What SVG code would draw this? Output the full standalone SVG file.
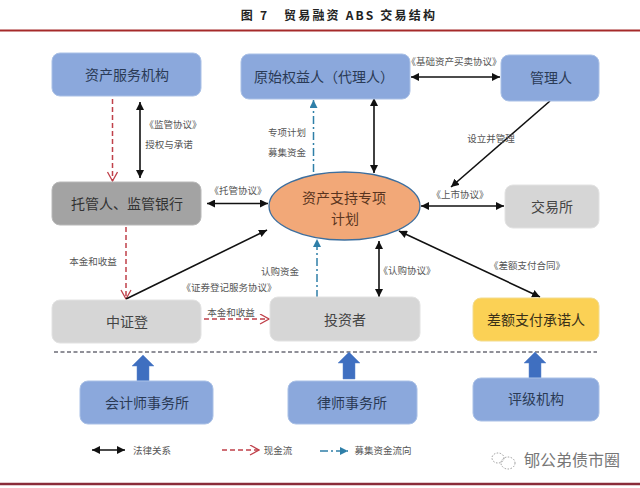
<svg xmlns="http://www.w3.org/2000/svg" width="640" height="488" viewBox="0 0 640 488">
<style>
text{font-family:"Noto Sans CJK SC","Liberation Sans",sans-serif;text-anchor:middle}
.n{font-size:14px;fill:#2a3a55}
.g{font-size:14px;fill:#444}
.l{font-size:9.500px;fill:#555}
.blue{fill:#8ba8dc;stroke:#a9c0e6;stroke-width:1}
.grey{fill:#d6d6d6;stroke:#e2e2e2;stroke-width:1}
.k{stroke:#111;stroke-width:1.600;fill:none;marker-start:url(#ks);marker-end:url(#ke)}
.k1{stroke:#111;stroke-width:1.600;fill:none;marker-end:url(#ke)}
.r{stroke:#c0404a;stroke-width:1.500;fill:none;stroke-dasharray:5 3;marker-end:url(#re)}
.t{stroke:#2f7fa8;stroke-width:1.500;fill:none;stroke-dasharray:8 3 2 3;marker-end:url(#te)}
.up{fill:#3f6fc0;stroke:#5a85cc;stroke-width:.5}
</style>
<defs>
<marker id="ke" markerUnits="userSpaceOnUse" markerWidth="9" markerHeight="9" refX="8" refY="4" orient="auto"><path d="M0 0L8 4L0 8Z" fill="#111"/></marker>
<marker id="ks" markerUnits="userSpaceOnUse" markerWidth="9" markerHeight="9" refX="0" refY="4" orient="auto"><path d="M8 0L0 4L8 8Z" fill="#111"/></marker>
<marker id="re" markerUnits="userSpaceOnUse" markerWidth="11" markerHeight="12" refX="10" refY="5.500" orient="auto"><path d="M1 .5L10 5.500L1 10.500" fill="none" stroke="#c0404a" stroke-width="1.300"/></marker>
<marker id="te" markerUnits="userSpaceOnUse" markerWidth="9" markerHeight="9" refX="8" refY="4" orient="auto"><path d="M0 0L8 4L0 8Z" fill="#2f7fa8"/></marker>
</defs>
<rect width="640" height="488" fill="#fff"/>
<text x="339" y="20" style="font-size:12px;font-weight:700;fill:#222;letter-spacing:2.200px;font-family:'Noto Sans CJK SC',serif" xml:space="preserve">图 7   贸易融资 ABS 交易结构</text>
<path d="M0 30.500H640" stroke="#a52a2a" stroke-width="2"/>
<path d="M0 484H640" stroke="#8a2c3a" stroke-width="2.500"/>
<g id="connectors">
<path class="r" d="M112.500 99V181"/>
<path class="k" d="M140 102V178"/>
<path class="k" d="M207 203.500H268"/>
<path class="t" d="M313.500 172V100"/>
<path class="k" d="M374 98V173"/>
<path class="k" d="M411 77H500"/>
<path class="k1" d="M550 101L451 187"/>
<path class="k" d="M421 206H504"/>
<path class="r" d="M126 227V299"/>
<path class="k1" d="M126 299L267 230"/>
<path class="r" d="M204 319H269"/>
<path class="t" d="M317 298V239"/>
<path class="k" d="M379 241V297"/>
<path class="k" d="M399 231L540 297"/>
<path d="M54 352H597" stroke="#223" stroke-width="1.200" stroke-dasharray="4 2.500" fill="none"/>
<path class="up" d="M137 381V366H132L143 355L154 366H149V381Z"/>
<path class="up" d="M343 379V363H338L349 352L360 363H355V379Z"/>
<path class="up" d="M529 378V363H524L535 352L546 363H541V378Z"/>
<path class="k" d="M92 450H125"/>
<path class="r" d="M222 450H259"/>
<path class="t" d="M320 451H348"/>
</g>
<g id="n1"><rect class="blue" x="52" y="53" width="149" height="43" rx="8"/><text class="n" x="127" y="80">资产服务机构</text></g>
<g id="n2"><rect class="blue" x="241" y="54" width="169" height="45" rx="8"/><text class="n" x="324" y="82">原始权益人（代理人）</text></g>
<g id="n3"><rect class="blue" x="501" y="55" width="98" height="46" rx="8"/><text class="n" x="551" y="83">管理人</text></g>
<g id="n4"><rect x="52" y="182" width="149" height="43" rx="8" fill="#a3a3a3" stroke="#b8b8b8"/><text class="g" x="127" y="209" style="fill:#333">托管人、监管银行</text></g>
<g id="n5"><ellipse cx="344.500" cy="206" rx="75.500" ry="34" fill="#f2a878" stroke="#3e6f9e" stroke-width="1.300"/><text class="n" x="344" y="203" style="fill:#5a3520">资产支持专项</text><text class="n" x="345" y="224" style="fill:#5a3520">计划</text></g>
<g id="n6"><rect class="grey" x="505" y="185" width="94" height="43" rx="8"/><text class="g" x="552" y="212">交易所</text></g>
<g id="n7"><rect class="grey" x="52" y="300" width="149" height="43" rx="8"/><text class="g" x="127" y="327">中证登</text></g>
<g id="n8"><rect class="grey" x="270" y="297" width="150" height="44" rx="8"/><text class="g" x="345" y="325">投资者</text></g>
<g id="n9"><rect x="473" y="298" width="126" height="43" rx="8" fill="#fbd155" stroke="#f2dc90"/><text class="g" x="536" y="325" style="fill:#3a3018">差额支付承诺人</text></g>
<g id="n10"><rect class="blue" x="80" y="381" width="133" height="43" rx="8"/><text class="n" x="147" y="408">会计师事务所</text></g>
<g id="n11"><rect class="blue" x="288" y="381" width="129" height="43" rx="8"/><text class="n" x="352" y="408">律师事务所</text></g>
<g id="n12"><rect class="blue" x="473" y="378" width="126" height="43" rx="8"/><text class="n" x="536" y="404">评级机构</text></g>
<g id="labels">
<text class="l" x="173" y="128">《监管协议》</text>
<text class="l" x="169" y="148">授权与承诺</text>
<text class="l" x="287" y="136">专项计划</text>
<text class="l" x="287" y="156">募集资金</text>
<text class="l" x="238" y="194">《托管协议》</text>
<text class="l" x="454" y="65">《基础资产买卖协议》</text>
<text class="l" x="491" y="142">设立并管理</text>
<text class="l" x="460" y="198">《上市协议》</text>
<text class="l" x="93" y="265">本金和收益</text>
<text class="l" x="280" y="275">认购资金</text>
<text class="l" x="229" y="291">《证券登记服务协议》</text>
<text class="l" x="231" y="316">本金和收益</text>
<text class="l" x="407" y="274">《认购协议》</text>
<text class="l" x="527" y="269">《差额支付合同》</text>
<text class="l" x="152" y="454">法律关系</text>
<text class="l" x="278" y="454">现金流</text>
<text class="l" x="383" y="454">募集资金流向</text>
<text x="572" y="466" style="font-size:16px;fill:#777">郇公弟债市圈</text>
</g>
<g id="wechat" fill="none" stroke="#999" stroke-width="1" stroke-dasharray="1.500 1.500"><ellipse cx="498" cy="458" rx="6" ry="5"/><ellipse cx="508" cy="463" rx="7" ry="6"/></g>
</svg>
